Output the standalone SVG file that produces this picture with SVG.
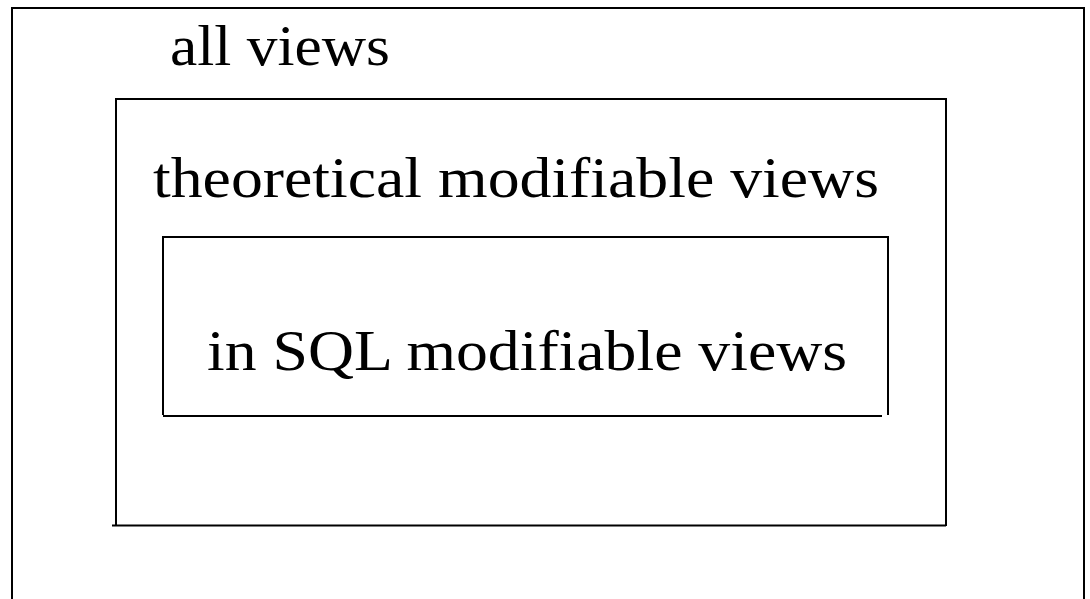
<svg xmlns="http://www.w3.org/2000/svg" width="1090" height="599" viewBox="0 0 1090 599">
<style>
.box{fill:none;stroke:#000;stroke-width:2}
.lbl{font-family:"Liberation Serif","Times New Roman",serif;font-size:58px;fill:#000}
</style>
<rect width="1090" height="599" fill="#fff"/>
<g id="all-views">
<path class="box" d="M12,605 V8 H1084 V605"/>
<text class="lbl" x="170" y="65" textLength="220" lengthAdjust="spacingAndGlyphs">all views</text>
</g>
<g id="theoretical-modifiable-views">
<path class="box" d="M116,525 V99 H946 V526 M112,525.5 H946"/>
<text class="lbl" x="153" y="197" textLength="726" lengthAdjust="spacingAndGlyphs">theoretical modifiable views</text>
</g>
<g id="in-sql-modifiable-views">
<path class="box" d="M163,415 V237 H888 V415 M163,416 H882"/>
<text class="lbl" x="207" y="370" textLength="640" lengthAdjust="spacingAndGlyphs">in SQL modifiable views</text>
</g>
<g id="connectors"/>
</svg>
